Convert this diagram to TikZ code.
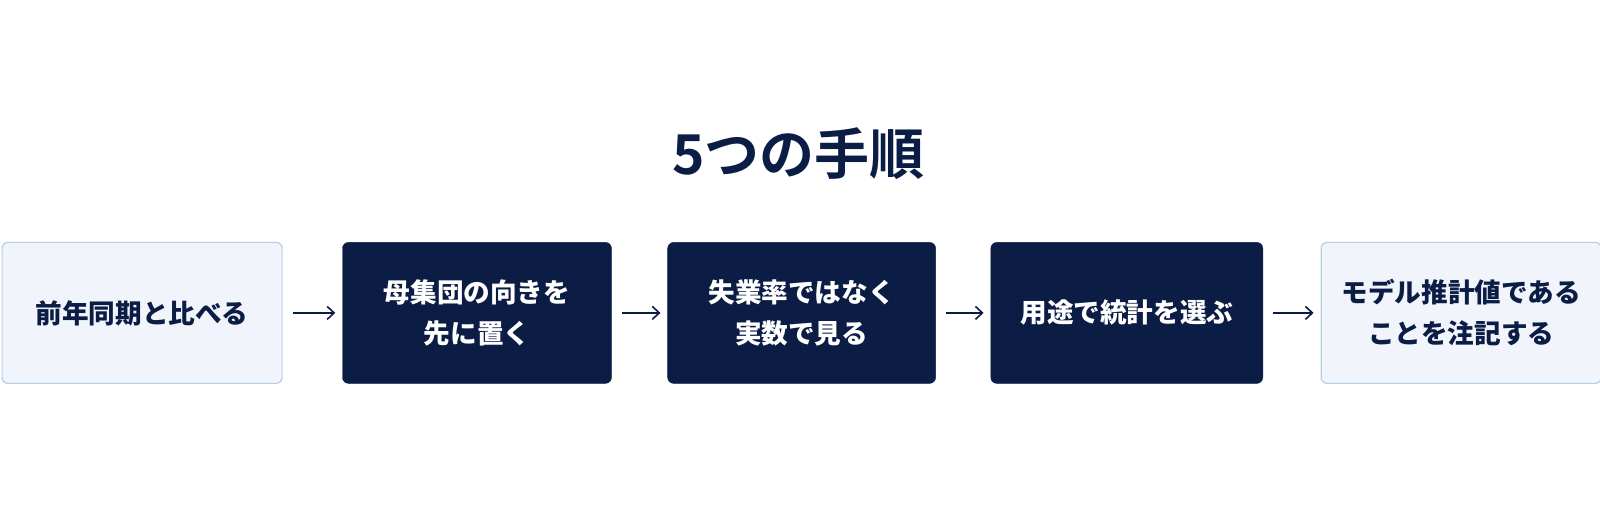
\documentclass[tikz,border=0pt]{standalone}
\usepackage{fontspec}
\newfontfamily\cjk{Noto Sans CJK JP}
\newfontfamily\cjkb{Noto Sans CJK JP Bold}
\usetikzlibrary{arrows.meta}
\definecolor{navy}{HTML}{0C1D45}
\definecolor{lightfill}{HTML}{F1F5FB}
\definecolor{lightline}{HTML}{B7CFE6}
\begin{document}%
\begin{tikzpicture}[x=1.0225pt,y=-1.0225pt,
  box/.style={rounded corners=6pt,minimum width=#1,minimum height=141pt,align=center,font=\cjk\bfseries\fontsize{26.6}{41}\selectfont,inner sep=0pt},
  light/.style={fill=lightfill,draw=lightline,line width=1.2pt,text=navy},
  dark/.style={fill=navy,draw=navy,text=white},
  arr/.style={-{Straight Barb[length=7pt,width=13pt]},line width=1.6pt,navy}]
\node[font=\cjkb\fontsize{55}{60}\selectfont,text=navy] (title) at (781,150) {5つの手順};
\node[box=280pt,light] (b1) at (139,306) {前年同期と比べる};
\node[box=269pt,dark] (b2) at (466.5,306) {母集団の向きを\\先に置く};
\node[box=268pt,dark] (b3) at (784,306) {失業率ではなく\\実数で見る};
\node[box=272pt,dark] (b4) at (1102,306) {用途で統計を選ぶ};
\node[box=280pt,light] (b5) at (1429,306) {モデル推計値である\\ことを注記する};
\foreach \a/\b in {b1/b2,b2/b3,b3/b4,b4/b5}
  \draw[arr] ([xshift=10pt]\a.east) -- ([xshift=-7pt]\b.west);
\pgfresetboundingbox
\useasboundingbox (0pt,0pt) rectangle (1600pt,-509pt);
\end{tikzpicture}%
\end{document}
